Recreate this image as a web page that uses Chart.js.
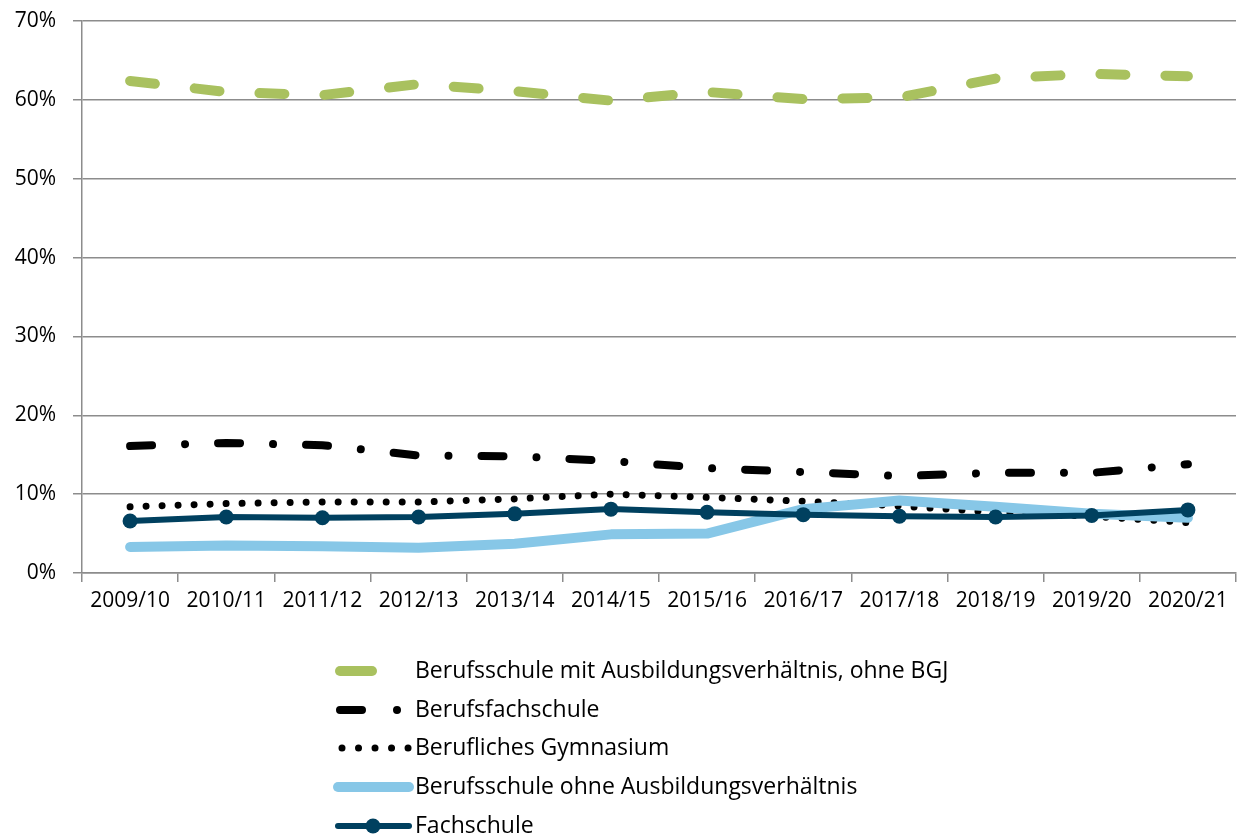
<!DOCTYPE html>
<html>
<head>
<meta charset="utf-8">
<script src="https://cdn.jsdelivr.net/npm/chart.js@4.4.0/dist/chart.umd.min.js"></script>
<style>
  body { margin: 0; background: #fff; }
  #chart { display: block; }
</style>
</head>
<body>
<canvas id="chart" width="1244" height="838"></canvas>
<script>
// Schuljahre
const years = ["2009/10", "2010/11", "2011/12", "2012/13", "2013/14", "2014/15",
  "2015/16", "2016/17", "2017/18", "2018/19", "2019/20", "2020/21"];

// Anteile in %
const mitAusbildung = [62.4, 61.0, 60.6, 62.0, 61.1, 59.9, 61.0, 60.1, 60.3, 62.7, 63.3, 63.0];
const berufsfach = [16.1, 16.5, 16.2, 14.9, 14.8, 14.2, 13.3, 12.8, 12.3, 12.7, 12.7, 13.8];
const gymnasium = [8.4, 8.8, 9.0, 9.0, 9.4, 10.0, 9.6, 9.1, 8.5, 7.7, 7.2, 6.4];
const ohneAusbildung = [3.3, 3.5, 3.4, 3.2, 3.7, 4.9, 5.0, 8.1, 9.2, 8.4, 7.5, 7.0];
const fachschule = [6.6, 7.1, 7.0, 7.1, 7.5, 8.1, 7.7, 7.4, 7.2, 7.1, 7.3, 8.0];

const yTicks = [0, 10, 20, 30, 40, 50, 60, 70];

const FONT = "'Open Sans', 'Noto Sans', sans-serif";

// eigene Legende unter dem Diagramm (vertikal)
const legendPlugin = {
  id: "verticalLegend",
  afterDraw(chart) {
    const ctx = chart.ctx;
    const rows = [671, 710, 748, 787, 826];
    chart.data.datasets.forEach((ds, i) => {
      const y = rows[i];
      ctx.save();
      ctx.strokeStyle = ds.borderColor;
      ctx.lineWidth = ds.borderWidth;
      ctx.lineCap = "round";
      ctx.setLineDash(ds.legendDash || []);
      ctx.beginPath();
      ctx.moveTo(ds.legendStart || 338, y);
      ctx.lineTo(ds.legendEnd || 409, y);
      ctx.stroke();
      if (ds.pointRadius > 0) {
        ctx.setLineDash([]);
        ctx.fillStyle = ds.borderColor;
        ctx.beginPath();
        ctx.arc(373, y, ds.pointRadius, 0, Math.PI * 2);
        ctx.fill();
      }
      ctx.fillStyle = "#000";
      ctx.font = "23px " + FONT;
      ctx.textBaseline = "middle";
      ctx.textAlign = "left";
      ctx.fillText(ds.label, 415, y);
      ctx.restore();
    });
  },
};

const ctx = document.getElementById("chart").getContext("2d");
new Chart(ctx, {
  type: "line",
  data: {
    labels: years,
    datasets: [
      {
        label: "Berufsschule mit Ausbildungsverhältnis, ohne BGJ",
        data: mitAusbildung,
        borderColor: "#a9c15f",
        borderWidth: 10,
        borderDash: [25, 40],
        borderCapStyle: "round",
        legendDash: [],
        legendStart: 340,
        legendEnd: 372,
        pointRadius: 0,
        order: 4,
      },
      {
        label: "Berufsfachschule",
        data: berufsfach,
        borderColor: "#000000",
        borderWidth: 8,
        borderDash: [22, 33, 0.01, 33],
        borderCapStyle: "round",
        legendDash: [22, 35, 0.01, 100],
        legendStart: 340,
        legendEnd: 409,
        pointRadius: 0,
        order: 3,
      },
      {
        label: "Berufliches Gymnasium",
        data: gymnasium,
        borderColor: "#000000",
        borderWidth: 7,
        borderDash: [0.01, 16],
        borderCapStyle: "round",
        legendDash: [0.01, 16.5],
        legendStart: 342,
        legendEnd: 409,
        pointRadius: 0,
        order: 2,
      },
      {
        label: "Berufsschule ohne Ausbildungsverhältnis",
        data: ohneAusbildung,
        borderColor: "#87c7e7",
        borderWidth: 10,
        borderCapStyle: "round",
        borderJoinStyle: "round",
        pointRadius: 0,
        order: 1,
      },
      {
        label: "Fachschule",
        data: fachschule,
        borderColor: "#00405f",
        backgroundColor: "#00405f",
        borderWidth: 6,
        borderCapStyle: "round",
        pointRadius: 7.5,
        pointBackgroundColor: "#00405f",
        pointBorderWidth: 0,
        order: 0,
      },
    ],
  },
  options: {
    responsive: false,
    animation: false,
    layout: { padding: { top: 21, right: 8, left: 0, bottom: 0 } },
    plugins: {
      legend: { display: false },
      tooltip: { enabled: false },
    },
    scales: {
      x: {
        offset: true,
        grid: {
          offset: true,
          drawOnChartArea: false,
          color: "#8c8c8c",
          lineWidth: 1.5,
          tickLength: 9,
        },
        border: { color: "#8c8c8c", width: 1.5 },
        ticks: {
          color: "#000",
          font: { family: FONT, size: 21 },
          padding: 6,
          maxRotation: 0,
          autoSkip: false,
        },
        afterFit(scale) {
          scale.height = 265;
        },
      },
      y: {
        min: 0,
        max: 70,
        afterBuildTicks(scale) {
          scale.ticks = yTicks.map((v) => ({ value: v }));
        },
        grid: {
          color: "#8c8c8c",
          lineWidth: 1.5,
          tickLength: 9,
        },
        border: { color: "#8c8c8c", width: 1.5 },
        ticks: {
          color: "#000",
          font: { family: FONT, size: 21 },
          padding: 17,
          callback: (v) => v + "%",
        },
        afterFit(scale) {
          scale.width = 82;
          scale.paddingTop = 0;
          scale.paddingBottom = 0;
        },
      },
    },
  },
  plugins: [legendPlugin],
});
</script>
</body>
</html>
